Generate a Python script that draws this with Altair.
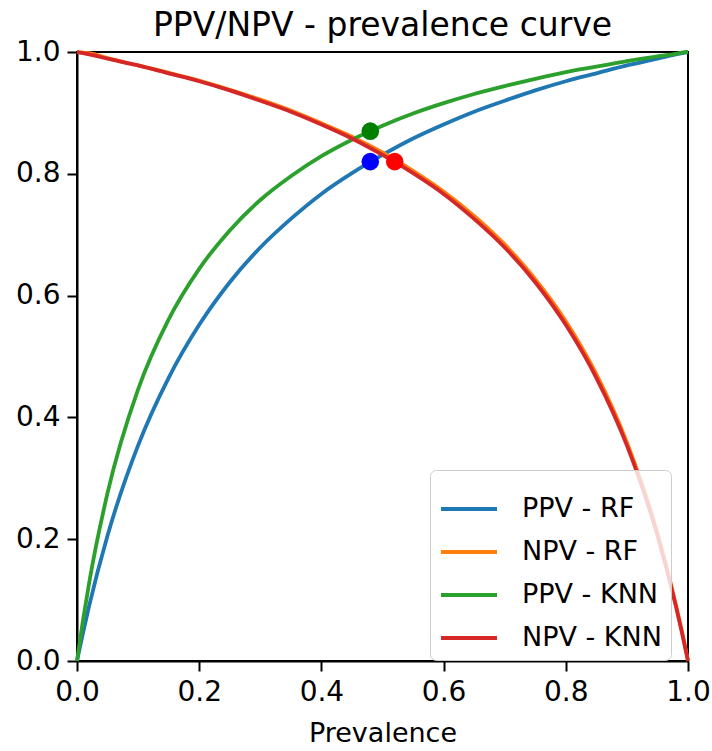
import altair as alt
import pandas as pd

# Prevalence grid
prev = [0.0, 0.01, 0.02, 0.05, 0.10, 0.15, 0.20, 0.25, 0.30, 0.35, 0.40, 0.45,
        0.50, 0.55, 0.60, 0.65, 0.70, 0.75, 0.80, 0.85, 0.90, 0.95, 0.98, 0.99, 1.0]

ppv_rf = [0.0, 0.047, 0.091, 0.206, 0.354, 0.465, 0.552, 0.622, 0.679, 0.726, 0.767, 0.801,
          0.831, 0.858, 0.881, 0.902, 0.920, 0.937, 0.952, 0.965, 0.978, 0.989, 0.996, 0.998, 1.0]
npv_rf = [1.0, 0.999, 0.998, 0.990, 0.978, 0.966, 0.953, 0.938, 0.922, 0.904, 0.883, 0.861,
          0.835, 0.805, 0.771, 0.731, 0.684, 0.627, 0.558, 0.471, 0.359, 0.210, 0.093, 0.049, 0.0]
ppv_knn = [0.0, 0.068, 0.129, 0.276, 0.446, 0.561, 0.644, 0.707, 0.757, 0.796, 0.829, 0.856,
           0.879, 0.899, 0.916, 0.931, 0.944, 0.956, 0.967, 0.976, 0.985, 0.993, 0.997, 0.999, 1.0]
npv_knn = [1.0, 0.998, 0.996, 0.989, 0.978, 0.965, 0.952, 0.937, 0.920, 0.902, 0.881, 0.858,
           0.831, 0.801, 0.767, 0.726, 0.679, 0.622, 0.552, 0.465, 0.354, 0.206, 0.091, 0.047, 0.0]

series_names = ["PPV - RF", "NPV - RF", "PPV - KNN", "NPV - KNN"]
series_colors = ["#1f77b4", "#ff7f0e", "#2ca02c", "#d62728"]

# Operating points
dot_x = [0.48, 0.48, 0.52]
dot_y = [0.82, 0.87, 0.82]
dot_color = ["blue", "green", "red"]

rows = []
for name, vals in zip(series_names, [ppv_rf, npv_rf, ppv_knn, npv_knn]):
    for i, (p, v) in enumerate(zip(prev, vals)):
        rows.append({"series": name, "prevalence": p, "value": v, "order": i})
df = pd.DataFrame(rows)
dots = pd.DataFrame({"x": dot_x, "y": dot_y, "c": dot_color})

FONT = "DejaVu Sans"
TICKS = [0, 0.2, 0.4, 0.6, 0.8, 1.0]

lines = alt.Chart(df).mark_line(strokeWidth=3.8, interpolate="monotone").encode(
    x=alt.X("prevalence:Q", scale=alt.Scale(domain=[0, 1], nice=False),
            axis=alt.Axis(title="Prevalence", values=TICKS, format=".1f")),
    y=alt.Y("value:Q", scale=alt.Scale(domain=[0, 1], nice=False),
            axis=alt.Axis(title=None, values=TICKS, format=".1f")),
    color=alt.Color("series:N", scale=alt.Scale(domain=series_names, range=series_colors),
                    sort=series_names,
                    legend=alt.Legend(title=None, orient="none", legendX=353, legendY=418,
                                      symbolType="stroke", symbolStrokeWidth=4, symbolSize=3136,
                                      labelFontSize=27, labelFont=FONT, labelOffset=23,
                                      fillColor="rgba(255,255,255,0.8)", strokeColor="#cccccc",
                                      cornerRadius=6, padding=9, rowPadding=0)),
    order="order:Q",
)

points = alt.Chart(dots).mark_circle(size=310, opacity=1).encode(
    x="x:Q", y="y:Q", color=alt.Color("c:N", scale=None),
)

chart = alt.layer(lines, points).properties(
    width=611, height=609,
    title=alt.Title("PPV/NPV - prevalence curve", fontSize=33, font=FONT, fontWeight="normal",
                    color="black", offset=-5),
    padding={"left": 77, "top": 52, "right": 24, "bottom": 90},
    autosize="none",
).configure_view(stroke="black", strokeWidth=2).configure_axis(
    domainColor="black", domainWidth=2, tickColor="black", tickWidth=2, tickSize=10,
    labelFont=FONT, labelFontSize=28, labelColor="black", labelPadding=7, labelFlush=False,
    titleFont=FONT, titleFontSize=27, titleColor="black", titleFontWeight="normal",
    titlePadding=14, grid=False,
)

chart.save("out.html", embed_options={"renderer": "svg", "actions": False})
